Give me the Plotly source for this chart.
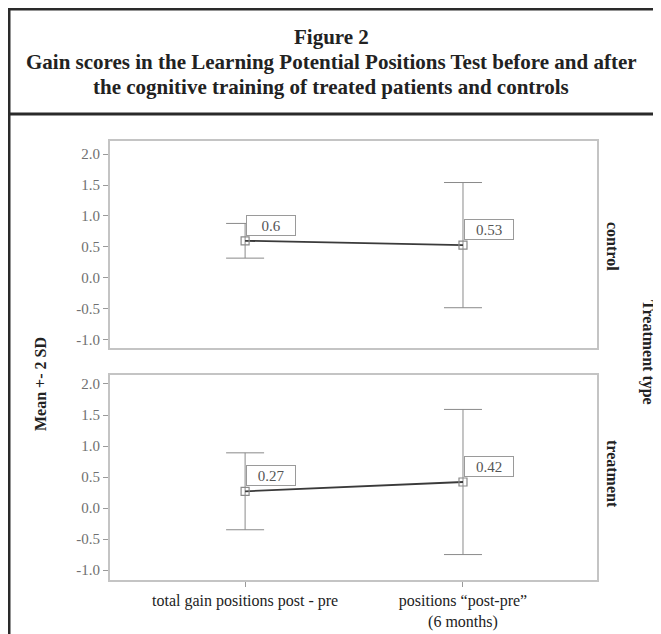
import plotly.graph_objects as go

W, H = 661, 634
OFF = 8  # page body margin compensation

categories = ["total gain positions post - pre", "positions \u201cpost-pre\u201d<br>(6 months)"]
x_pos = [0, 1]

control_mean = [0.6, 0.53]
control_sd2 = [0.28, 1.01]
control_labels = ["0.6", "0.53"]

treatment_mean = [0.27, 0.42]
treatment_sd2 = [0.62, 1.17]
treatment_labels = ["0.27", "0.42"]

y_ticks = [-1.0, -0.5, 0.0, 0.5, 1.0, 1.5, 2.0]
y_ticktext = ["-1.0", "-0.5", "0.0", "0.5", "1.0", "1.5", "2.0"]

SERIF = "Liberation Serif, Times New Roman, serif"


def px_x(p):
    return (p - OFF) / W


def px_y(p):
    return 1 - (p - OFF) / H


fig = go.Figure()

for mean, sd, ax in [(control_mean, control_sd2, "y"), (treatment_mean, treatment_sd2, "y2")]:
    fig.add_trace(go.Scatter(
        x=x_pos, y=mean, mode="lines+markers",
        xaxis="x" if ax == "y" else "x2", yaxis=ax,
        line=dict(color="#3a3a3a", width=1.8),
        marker=dict(symbol="square-open", size=8, color="#8a8a8a", line=dict(width=1.2)),
        error_y=dict(type="data", array=sd, visible=True, color="#8a8a8a", thickness=1, width=19),
        showlegend=False, hoverinfo="skip",
    ))

xdom = [px_x(110), px_x(597)]
axis_common = dict(showgrid=False, zeroline=False, showline=True, mirror=True,
                   linecolor="#c4c4c4", linewidth=2)
ytickfont = dict(family=SERIF, size=15, color="#707070")

fig.update_layout(
    width=W, height=H,
    margin=dict(l=0, r=0, t=0, b=0),
    paper_bgcolor="white", plot_bgcolor="white",
    xaxis=dict(domain=xdom, anchor="y", range=[-0.62, 1.615], showticklabels=False, ticks="",
               **axis_common),
    yaxis=dict(domain=[px_y(348), px_y(141)], anchor="x", range=[-1.13, 2.21],
               tickvals=y_ticks, ticktext=y_ticktext, ticks="outside", ticklen=5,
               tickcolor="#9a9a9a", tickfont=ytickfont, **axis_common),
    xaxis2=dict(domain=xdom, anchor="y2", range=[-0.62, 1.615], tickvals=x_pos,
                ticktext=categories, ticks="outside", ticklen=5, tickcolor="#9a9a9a",
                tickfont=dict(family=SERIF, size=16, color="#222222"),
                **axis_common),
    yaxis2=dict(domain=[px_y(580), px_y(375)], anchor="x2", range=[-1.16, 2.145],
                tickvals=y_ticks, ticktext=y_ticktext, ticks="outside", ticklen=5,
                tickcolor="#9a9a9a", tickfont=ytickfont, **axis_common),
)

annotations = []
# value label boxes
for labels, mean, xr, yr in [(control_labels, control_mean, "x", "y"),
                             (treatment_labels, treatment_mean, "x2", "y2")]:
    for xi, yi, t in zip(x_pos, mean, labels):
        annotations.append(dict(
            x=xi, y=yi, xref=xr, yref=yr, text=t, showarrow=False,
            xanchor="left", yanchor="bottom", xshift=1, yshift=5,
            width=46, height=17, align="center",
            font=dict(family=SERIF, size=15, color="#555555"),
            bordercolor="#9a9a9a", borderwidth=1, borderpad=1, bgcolor="white",
        ))

# title lines
title_lines = ["Figure 2",
               "Gain scores in the Learning Potential Positions Test before and after",
               "the cognitive training of treated patients and controls"]
for i, t in enumerate(title_lines):
    annotations.append(dict(
        x=px_x(331), y=px_y(37 + 25 * i), xref="paper", yref="paper", text="<b>%s</b>" % t,
        showarrow=False, xanchor="center", yanchor="middle",
        font=dict(family=SERIF, size=21, color="#222222"),
    ))

# side labels
side_font = dict(family=SERIF, size=16, color="#222222")
side = dict(xref="paper", yref="paper", showarrow=False, xanchor="center", yanchor="middle",
            font=side_font)
annotations += [
    dict(x=px_x(613), y=px_y(246), text="<b>control</b>", textangle=90, **side),
    dict(x=px_x(613), y=px_y(474), text="<b>treatment</b>", textangle=90, **side),
    dict(x=px_x(648), y=px_y(352), text="<b>Treatment type</b>", textangle=90, **side),
    dict(x=px_x(40), y=px_y(384), text="<b>Mean +- 2 SD</b>", textangle=-90, **side),
]
fig.update_layout(annotations=annotations)

# frame lines
shapes = [
    dict(type="line", xref="paper", yref="paper", x0=px_x(9), x1=px_x(9), y0=px_y(8), y1=0,
         line=dict(color="#2a2a2a", width=3)),
    dict(type="line", xref="paper", yref="paper", x0=px_x(8), x1=1, y0=px_y(9), y1=px_y(9),
         line=dict(color="#2a2a2a", width=3)),
    dict(type="line", xref="paper", yref="paper", x0=px_x(8), x1=1, y0=px_y(114), y1=px_y(114),
         line=dict(color="#2a2a2a", width=3)),
]
fig.update_layout(shapes=shapes)

fig.write_html("out.html")
